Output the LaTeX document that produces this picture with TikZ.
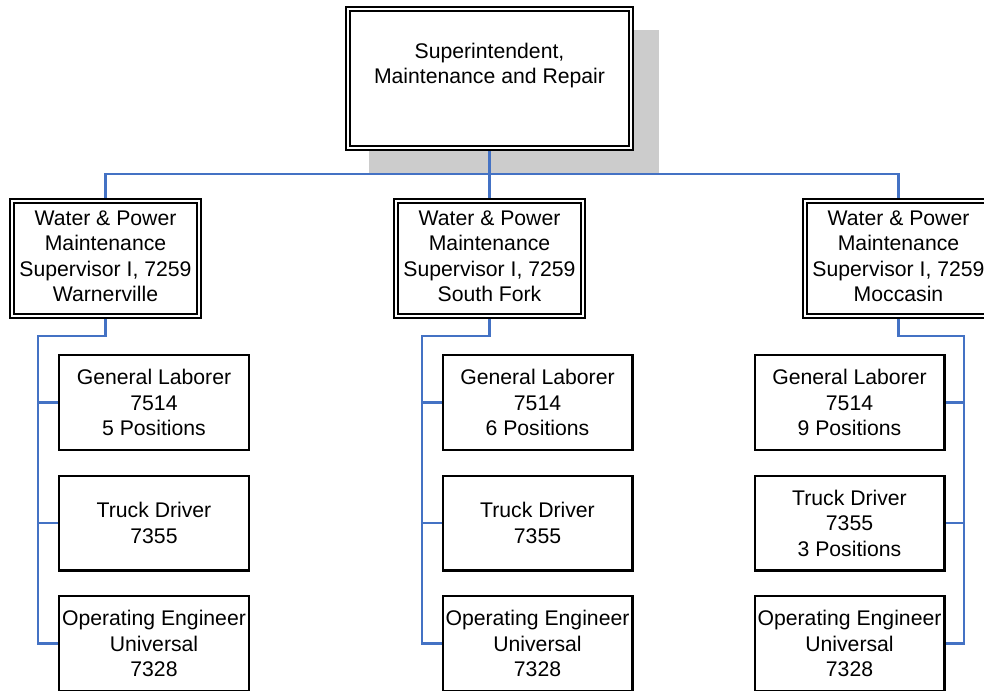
\documentclass[tikz,border=0pt]{standalone}
\usepackage{fontspec}
\setmainfont{Liberation Sans}
\usepackage{xcolor}
\usetikzlibrary{positioning, backgrounds}
\definecolor{linkblue}{RGB}{68,114,196}
\definecolor{shadowgray}{RGB}{204,204,204}

\begin{document}
\begin{tikzpicture}[x=1pt, y=-1pt, node distance=120.5pt,
		chartfont/.style={font=\fontsize{21.2}{25.5}\selectfont},
		headbox/.style={draw, fill=white, line width=2pt, double, double distance=1.8pt, minimum width=187.2pt, minimum height=115.2pt, align=center, text depth=5pt, inner sep=0pt, outer sep=0pt, chartfont},
		jobbox/.style={draw, line width=2.4pt, minimum width=189.6pt, minimum height=94.6pt, align=center, inner sep=0pt, outer sep=0pt, chartfont},
		link/.style={draw=linkblue, line width=2.2pt}]

		% Frame
		\clip (0,0) rectangle (984,690);

		% Top box
		\node[headbox, minimum width=283.2pt, minimum height=139.2pt] (super) at (489.5,78.5) {};
		\node[chartfont, align=center, inner sep=0pt] (super_text) at (489.5,65.5) {Superintendent,\\ Maintenance and Repair};

		% Supervisor boxes
		\node[headbox] (sup_left) at (105.5,258.5) {Water \& Power\\ Maintenance\\ Supervisor I, 7259\\ Warnerville};
		\node[headbox] (sup_mid) at (489.5,258.5) {Water \& Power\\ Maintenance\\ Supervisor I, 7259\\ South Fork};
		\node[headbox] (sup_right) at (898.5,258.5) {Water \& Power\\ Maintenance\\ Supervisor I, 7259\\ Moccasin};

		% Left column
		\node[jobbox] (lab_left) at (154,402.5) {General Laborer\\ 7514\\ 5 Positions};
		\node[jobbox, below of=lab_left] (truck_left) {Truck Driver\\ 7355};
		\node[jobbox, below of=truck_left] (eng_left) {Operating Engineer\\ Universal\\ 7328};

		% Middle column
		\node[jobbox] (lab_mid) at (537.5,402.5) {General Laborer\\ 7514\\ 6 Positions};
		\node[jobbox, below of=lab_mid] (truck_mid) {Truck Driver\\ 7355};
		\node[jobbox, below of=truck_mid] (eng_mid) {Operating Engineer\\ Universal\\ 7328};

		% Right column
		\node[jobbox] (lab_right) at (849.5,402.5) {General Laborer\\ 7514\\ 9 Positions};
		\node[jobbox, below of=lab_right] (truck_right) {Truck Driver\\ 7355\\ 3 Positions};
		\node[jobbox, below of=truck_right] (eng_right) {Operating Engineer\\ Universal\\ 7328};

		% Bends of the lines
		\coordinate (bus) at (489.5,174);
		\coordinate (knee_left) at (38,336);
		\coordinate (knee_mid) at (422,336);
		\coordinate (knee_right) at (964,336);

		\begin{pgfonlayer}{background}
			% Shadow of the top box
			\fill[shadowgray] ([shift={(21,21)}]super.north west) rectangle ([shift={(28,26)}]super.south east);

			% Lines from the top box
			\draw[link] (super.south) -- (bus);
			\draw[link] (sup_left.north) |- (bus) -| (sup_right.north);
			\draw[link] (bus) -- (sup_mid.north);

			% Lines in the left column
			\draw[link] (sup_left.south) |- (knee_left) |- (eng_left.west);
			\draw[link] (knee_left |- lab_left.west) -- (lab_left.west);
			\draw[link] (knee_left |- truck_left.west) -- (truck_left.west);

			% Lines in the middle column
			\draw[link] (sup_mid.south) |- (knee_mid) |- (eng_mid.west);
			\draw[link] (knee_mid |- lab_mid.west) -- (lab_mid.west);
			\draw[link] (knee_mid |- truck_mid.west) -- (truck_mid.west);

			% Lines in the right column
			\draw[link] (sup_right.south) |- (knee_right) |- (eng_right.east);
			\draw[link] (knee_right |- lab_right.east) -- (lab_right.east);
			\draw[link] (knee_right |- truck_right.east) -- (truck_right.east);
		\end{pgfonlayer}
	\end{tikzpicture}
\end{document}
